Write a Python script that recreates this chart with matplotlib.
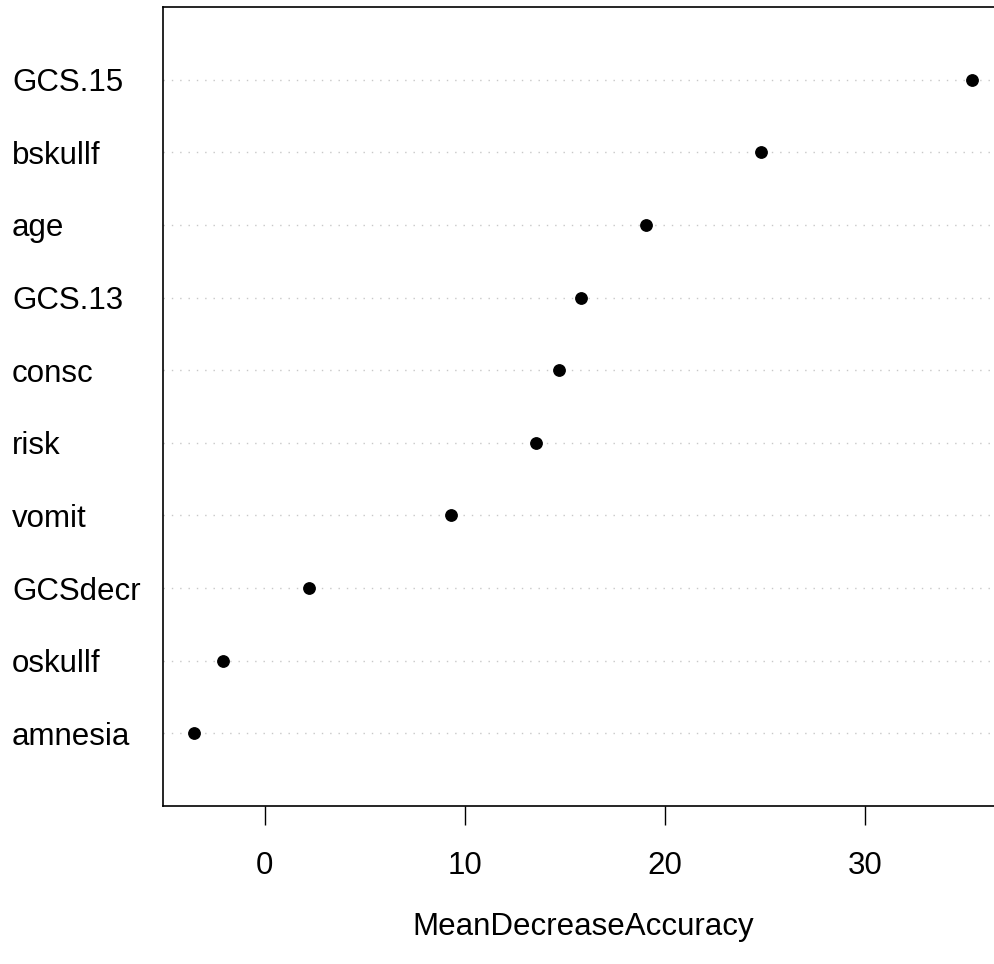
import matplotlib
matplotlib.use("Agg")
import matplotlib.pyplot as plt

# variable importance, bottom row first (as dotchart draws it)
labels = ["amnesia", "oskullf", "GCSdecr", "vomit", "risk",
          "consc", "GCS.13", "age", "bskullf", "GCS.15"]
values = [-3.52, -2.10, 2.23, 9.29, 13.57, 14.68, 15.82, 19.05, 24.78, 35.34]
xticks = [0, 10, 20, 30]
xlabel = "MeanDecreaseAccuracy"

plt.rcParams['font.family'] = ['Liberation Sans', 'DejaVu Sans']

W, H = 995, 964
fig = plt.figure(figsize=(W / 100, H / 100), dpi=100)
# plot region; right edge runs past the figure like in the original
ax = fig.add_axes([163 / W, 1 - 806 / H, 840.3 / W, 799 / H])

ypos = list(range(1, len(labels) + 1))

# light grey dotted guide lines
for y in ypos:
    ax.axhline(y, color='#c8c8c8', lw=1.0, dashes=(1, 5), zorder=1)

ax.plot(values, ypos, 'o', color='black', ms=8.2, zorder=3)

# R style range: data range + 4%
lo, hi = min(values), max(values)
ext = 0.04 * (hi - lo)
ax.set_xlim(lo - ext, hi + ext)
ax.set_ylim(0, len(labels) + 1)

ax.set_xticks(xticks)
ax.set_xticklabels([str(t) for t in xticks], fontsize=22.5)
ax.tick_params(axis='x', length=13.7, width=1.0, pad=19, colors='black')

ax.set_yticks(ypos)
ax.set_yticklabels(labels, fontsize=22.5, ha='left')
ax.tick_params(axis='y', length=0, pad=108.7)

ax.set_xlabel(xlabel, fontsize=22.5, labelpad=22)

for side in ['left', 'top', 'bottom']:
    ax.spines[side].set_linewidth(1.2)
    ax.spines[side].set_color('black')
ax.spines['right'].set_visible(False)

fig.savefig("out.png", dpi=100)
